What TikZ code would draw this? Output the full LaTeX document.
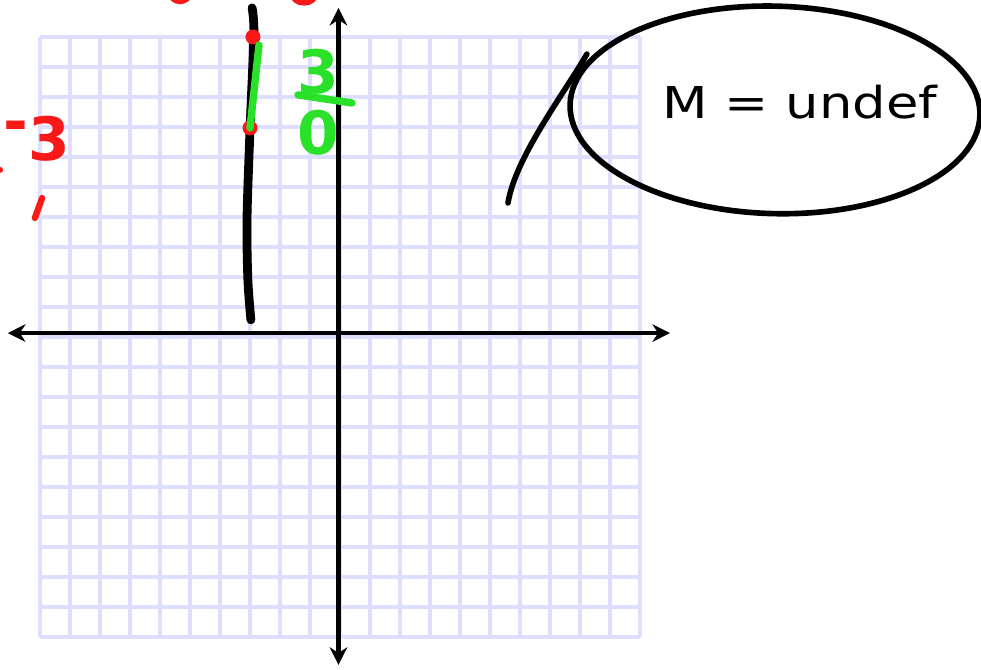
\documentclass[tikz,border=0pt]{standalone}
\usepackage{fontspec}
\setmainfont{DejaVu Sans}
\usetikzlibrary{arrows.meta, shapes.geometric}

\definecolor{gridblue}{RGB}{222,222,255}
\definecolor{inkgreen}{RGB}{40,225,40}
\definecolor{inkred}{RGB}{250,25,25}

\begin{document}
\begin{tikzpicture}[
    x = 0.6cm, y = 0.6cm,
    >=Stealth,
    gridline/.style = {gridblue, line width = 2pt},
    axis/.style = {
        line width = 2.6pt, <->,
        >={Stealth[length=10pt, width=10pt]}
    },
    ink/.style = {line width = 5pt, line cap = round, line join = round},
    pen/.style = {line width = 3.2pt, line cap = round},
    greenpen/.style = {inkgreen, line width = 4.2pt, line cap = round},
    redpen/.style = {inkred, line width = 3.6pt, line cap = round},
    reddot/.style = {
        circle, fill = inkred, inner sep = 0pt,
        minimum size = 0.3cm
    },
    greendigit/.style = {
        inkgreen, inner sep = 0pt,
        font = \fontsize{34}{34}\selectfont\bfseries
    },
    reddigit/.style = {
        inkred, inner sep = 0pt,
        font = \fontsize{34}{34}\selectfont\bfseries
    },
    bubble/.style = {
        ellipse, draw, line width = 3.2pt,
        minimum width = 8.2cm, minimum height = 4.15cm,
        inner sep = 0pt
    },
    note/.style = {
        inner sep = 0pt, xscale = 1.2,
        font = \fontsize{25}{25}\selectfont
    }
]

% --- Page frame (981 x 670 px) ---
\clip (-11.333,-11.1) rectangle (21.367,11.233);
\fill[white] (-11.333,-11.1) rectangle (21.367,11.233);

% --- Graph paper and axes ---
\draw[gridline, step = 0.6cm] (-10,-10) grid (10,10);

\coordinate (xl) at (-11.07,0.13);
\coordinate (xr) at (11.0,0.13);
\coordinate (yt) at (-0.05,10.97);
\coordinate (yb) at (-0.05,-10.93);

\draw[axis] (xl) -- (xr);
\draw[axis] (yb) -- (yt);

% --- Vertical line x = -3 ---
\draw[ink] plot[smooth] coordinates {
    (-2.93,10.97) (-2.87,10.07) (-3.0,6.9)
    (-3.1,3.9) (-3.07,1.9) (-2.97,0.57)
};

\node[reddot] (ptop) at (-2.9,10.0) {};
\node[reddot] (pbot) at (-3.0,6.97) {};

\draw[greenpen] ([shift={(0.2,-0.27)}]ptop.center) -- (pbot.center);

% --- Rise over run ---
\node[greendigit] (rise) at (-0.73,8.83) {3};
\node[greendigit] (run)  at (-0.73,6.8)  {0};

\coordinate (barl) at (-1.4,8.07);
\coordinate (barr) at (0.4,7.8);
\draw[greenpen] (barl) -- (barr);

% --- Red marks on the left and top edge ---
\node[reddigit] (negthree) at (-10.1,6.62) {\raisebox{0.3em}{-}3};

\coordinate (ticka) at (-9.93,4.63);
\coordinate (tickb) at (-10.17,3.97);
\draw[redpen] (ticka) -- (tickb);

\fill[inkred] (-11.33,5.57) circle (0.1);
\draw[redpen] (-5.33,11.45) ellipse (0.3 and 0.25);
\draw[redpen] (-1.2,11.45) ellipse (0.38 and 0.3);

% --- Curve and note ---
\coordinate (cstart) at (5.6,4.47);
\coordinate (cend) at (8.23,9.43);
\draw[pen] (cstart) .. controls (5.85,6.0) and (7.48,8.13) .. (cend);

\node[bubble, rotate = -1.5] (bubble) at (14.5,7.57) {};
\node[note] (slope) at (15.33,7.83) {M = undef};

\end{tikzpicture}
\end{document}
